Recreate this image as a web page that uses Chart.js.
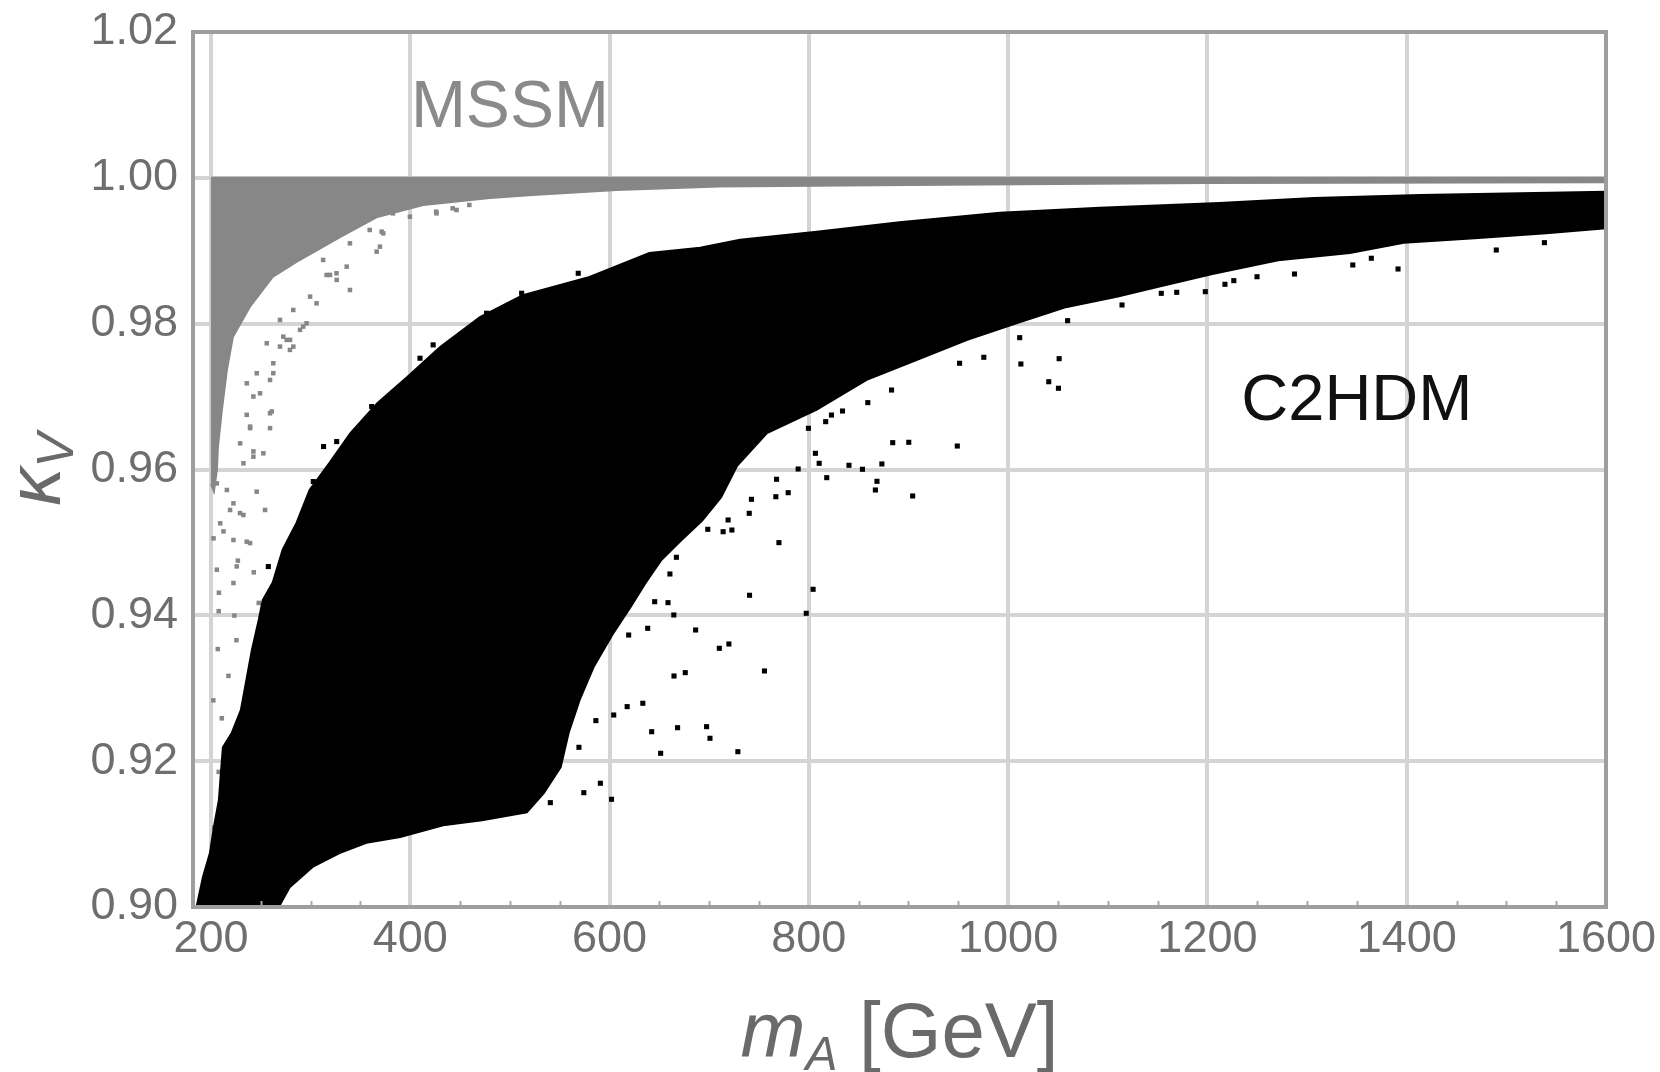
<!DOCTYPE html>
<html><head><meta charset="utf-8">
<script src="https://cdn.jsdelivr.net/npm/chart.js@4.4.1/dist/chart.umd.min.js"></script>
<style>html,body{margin:0;padding:0;background:#fff;}canvas{display:block;}</style>
</head><body>
<canvas id="c" width="1660" height="1072"></canvas>
<script>
// ---- data ----
const xTickValues = [200, 400, 600, 800, 1000, 1200, 1400, 1600];
const yTickValues = [0.90, 0.92, 0.94, 0.96, 0.98, 1.00, 1.02];

// dense MSSM scan region (outline: mA, kappa_V)
const mssmRegion = [
  [200,1.0000],[1600,1.0000],[1600,0.9994],[1200,0.9993],[900,0.9990],[710,0.9988],
  [607,0.99833],[523,0.99765],[480,0.99724],[413,0.99628],[367,0.99463],[330,0.99189],
  [289,0.98873],[262,0.9864],[239,0.98229],[222,0.97817],[216,0.97365],[211,0.96816],
  [207,0.96309],[206,0.95993],[203,0.9570],[200,0.9580]
];
// isolated MSSM points
const mssmPoints = [
  [372.9,0.99239],[369.6,0.99056],[339.5,0.99102],[336.2,0.98782],[339.5,0.98462],[319.5,0.98668],
  [306,0.98279],[299.5,0.98371],[296,0.98005],[282.7,0.97685],[276,0.97777],[262.6,0.97457],
  [249.3,0.97045],[259.3,0.96771],[239.3,0.96588],[229.3,0.96359],[252.6,0.96222],[245.9,0.95696],
  [254.3,0.95445],[219.2,0.95445],[232.6,0.95376],[235.9,0.95010],[222.6,0.95033],[202.6,0.95056],
  [216,0.95719],[205.9,0.95810],[232.6,0.96085],[222.6,0.95536],[209.3,0.95262],[242.6,0.96176],
  [259.3,0.97228],[246,0.97320],[236,0.97182],[292.6,0.97960],[269.3,0.98051],[282.6,0.98188],
  [312.6,0.98874],[326,0.98691],[359.3,0.99285],[382.6,0.99513],[426,0.99536],[442.6,0.99582],
  [459.3,0.99628],[272.6,0.97822],[256,0.97731],[279.3,0.97640],
  [379.6,0.99628],[399.7,0.99467],[426.4,0.99513],[446.5,0.99559],[371.3,0.99262],[366.3,0.98988],
  [326.2,0.98600],[316.1,0.98668],[289.4,0.97915],[279.4,0.97778],[269.3,0.97686],[262.6,0.97321],
  [242.6,0.97001],[235.9,0.96750],[261,0.96796],[259.3,0.96567],[239.3,0.96567],[242.6,0.96248],
  [212.6,0.95151],[239.3,0.94991],[225.9,0.94671],[205.9,0.94626],[222.6,0.94443],[229.2,0.95402],
  [207.8,0.94057],[223.5,0.93997],[206.9,0.93537],[225.6,0.93659],[217.6,0.93170],[202.4,0.92834],
  [210.9,0.92588],[207.8,0.91853],[203.3,0.91088],[208,0.9431],[227,0.9475],[243,0.9459],[248,0.9417]
];
// dense C2HDM scan region (outline)
const c2hdmRegion = [
  [184,0.899],[192,0.9041],[199,0.9074],[203,0.9110],[208,0.9147],[210,0.9184],[212,0.9219],
  [221,0.9239],[230,0.9270],[235,0.9307],[241,0.9352],[248,0.9394],[252,0.9421],[262,0.9445],
  [272,0.9490],[286,0.9527],[299,0.9572],[319,0.9609],[340,0.9650],[367,0.9691],[397,0.9727],
  [430,0.9768],[470,0.9809],[513,0.9839],[580,0.9864],[640,0.9897],[691,0.9904],[731,0.9915],
  [808,0.9926],[891,0.9939],[992,0.9952],[1092,0.9959],[1212,0.99655],[1307,0.99723],
  [1414,0.99765],[1600,0.9981],
  [1600,0.9931],[1540,0.9924],[1468,0.9917],[1397,0.9911],[1343,0.9897],[1271,0.9887],
  [1205,0.9868],[1155,0.9852],[1109,0.9837],[1059,0.9823],[1009,0.9801],[959,0.9778],
  [908,0.9750],[858,0.9723],[808,0.9682],[758,0.9650],[728,0.9605],[712,0.9562],[693,0.9530],
  [672,0.9503],[652,0.9476],[636,0.9444],[621,0.9411],[604,0.9376],[584,0.9329],[570,0.9284],
  [559,0.9239],[551,0.9192],[534,0.9156],[517,0.9130],[472,0.9119],[433,0.9112],[390,0.9096],
  [356,0.9088],[329,0.9074],[302,0.9055],[279,0.9027],[264,0.899]
];
// isolated C2HDM points
const c2hdmPoints = [
  [1059.7,0.98041],[1011.6,0.97808],[1012.8,0.97447],[1051.2,0.97520],[1040.8,0.97204],[1050.5,0.97114],
  [975.6,0.97539],[951.3,0.97457],[883,0.97090],[859.2,0.96917],[833.8,0.96802],[822.7,0.96747],
  [816.9,0.96656],[799.6,0.96565],[884.2,0.96368],[900.3,0.96373],[949,0.96322],[806.6,0.96222],
  [810.4,0.96085],[789.3,0.96007],[840.3,0.96058],[853.8,0.96003],[873.3,0.96076],[818,0.95888],
  [868.4,0.95838],[866.8,0.95719],[904.2,0.95637],[767.6,0.95866],[766.9,0.95627],[779.3,0.95682],
  [742.4,0.95591],[740.2,0.95399],[719,0.95308],[722.8,0.95170],[714,0.95147],[698.6,0.95180],
  [770,0.94997],[660.6,0.94567],[667.1,0.94796],[645.3,0.94187],[658.7,0.94174],[664.5,0.94005],
  [740.5,0.94275],[804.3,0.94357],[797.4,0.94028],[638.3,0.93822],[619.2,0.93730],[686.4,0.93799],
  [719.8,0.93607],[710.2,0.93548],[664.7,0.93168],[676,0.93214],[633.4,0.92794],[617.7,0.92748],
  [604.2,0.92633],[586.3,0.92556],[642.3,0.92404],[668.3,0.92459],[651.3,0.92108],[574.2,0.91568],
  [590.8,0.91697],[602,0.91477],[569.3,0.92190],[540.6,0.91431],[728.8,0.92130],[697.4,0.92473],
  [700.8,0.92314],[755.5,0.93237],
  [1391.3,0.98750],[1489.9,0.99010],[1538.2,0.99111],[1287.4,0.98681],[1249.8,0.98644],
  [1226.5,0.98590],[1217.6,0.98540],[1197.9,0.98439],[1169.2,0.98430],[1153.7,0.98416],[1114.3,0.98256],
  [1345.9,0.98805],[1364.5,0.98897],
  [568.6,0.98691],[511.8,0.98417],[476.6,0.98143],[423,0.97709],[409.8,0.97526],[361.3,0.96863],
  [313,0.96315],[302.7,0.95835],[257.6,0.94669],[326.2,0.96383]
];
const regionNames = ['MSSM', 'C2HDM'];

// ---- presentation settings (not data) ----
const FONT = '"Liberation Sans", Arial, sans-serif';
const GRAY_PTS = '#878787';
const labelAnchors = { MSSM: [500, 1.00697], C2HDM: [1350, 0.96679] };
const labelStyles = { MSSM: { color: '#8a8a8a', size: 66 }, C2HDM: { color: '#111111', size: 65 } };

const toXY = arr => arr.map(([x, y]) => ({ x, y }));

const decor = {
  id: 'decor',
  afterDatasetsDraw(chart) {
    const { ctx, chartArea: ca, scales: { x, y } } = chart;
    ctx.save();
    ctx.strokeStyle = '#a8a8a8'; ctx.lineWidth = 2;
    for (let v = 250; v < 1600; v += 50) {
      if (v % 200 === 0) continue;
      const px = Math.round(x.getPixelForValue(v)) + 0.5;
      ctx.beginPath(); ctx.moveTo(px, ca.bottom); ctx.lineTo(px, ca.bottom - 6); ctx.stroke();
    }
    ctx.strokeStyle = '#9e9e9e'; ctx.lineWidth = 4;
    ctx.strokeRect(ca.left, ca.top, ca.right - ca.left, ca.bottom - ca.top);
    ctx.textAlign = 'center'; ctx.textBaseline = 'alphabetic';
    regionNames.forEach(n => {
      const [lx, ly] = labelAnchors[n];
      ctx.fillStyle = labelStyles[n].color;
      ctx.font = labelStyles[n].size + 'px ' + FONT;
      ctx.fillText(n, x.getPixelForValue(lx), y.getPixelForValue(ly));
    });
    ctx.restore();
  },
  afterDraw(chart) {
    const { ctx, chartArea: ca } = chart;
    ctx.save();
    ctx.fillStyle = '#6a6a6a';
    ctx.textAlign = 'left'; ctx.textBaseline = 'alphabetic';
    const fMain = 'italic 78px ' + FONT, fSub = 'italic 48px ' + FONT, fReg = '78px ' + FONT;
    ctx.font = fMain; const w1 = ctx.measureText('m').width;
    ctx.font = fSub; const w2 = ctx.measureText('A').width;
    ctx.font = fReg; const w3 = ctx.measureText(' [GeV]').width;
    const cx = (ca.left + ca.right) / 2, by = ca.bottom + 150;
    const x0 = cx - (w1 + w2 + w3) / 2;
    ctx.font = fMain; ctx.fillText('m', x0, by);
    ctx.font = fSub; ctx.fillText('A', x0 + w1, by + 13);
    ctx.font = fReg; ctx.fillText(' [GeV]', x0 + w1 + w2, by);
    ctx.translate(60, (ca.top + ca.bottom) / 2);
    ctx.rotate(-Math.PI / 2);
    const fk = 'italic 76px ' + FONT, fv = 'italic 52px ' + FONT;
    ctx.font = fk; const wk = ctx.measureText('\u03BA').width;
    ctx.font = fv; const wv = ctx.measureText('V').width;
    const k0 = -(wk + wv) / 2;
    ctx.font = fk; ctx.fillText('\u03BA', k0, 0);
    ctx.font = fv; ctx.fillText('V', k0 + wk, 13);
    ctx.restore();
  }
};

new Chart(document.getElementById('c'), {
  type: 'scatter',
  data: {
    datasets: [
      { label: 'C2HDM points', data: toXY(c2hdmPoints), pointStyle: 'rect', pointRadius: 3.6,
        backgroundColor: '#000', borderWidth: 0, clip: 0 },
      { label: 'C2HDM', data: toXY(c2hdmRegion), showLine: true, fill: 'shape', tension: 0,
        pointRadius: 0, borderColor: '#000', backgroundColor: '#000', borderWidth: 2, clip: 0 },
      { label: 'MSSM points', data: toXY(mssmPoints), pointStyle: 'rect', pointRadius: 3.2,
        backgroundColor: GRAY_PTS, borderWidth: 0, clip: 0 },
      { label: 'MSSM', data: toXY(mssmRegion), showLine: true, fill: 'shape', tension: 0,
        pointRadius: 0, borderColor: GRAY_PTS, backgroundColor: GRAY_PTS, borderWidth: 2, clip: 0 }
    ]
  },
  options: {
    responsive: false, animation: false, devicePixelRatio: 1,
    layout: { padding: { top: 32, right: 54, left: 0, bottom: 0 } },
    plugins: { legend: { display: false }, tooltip: { enabled: false } },
    scales: {
      x: {
        type: 'linear', min: 182, max: 1600,
        afterBuildTicks: s => { s.ticks = xTickValues.map(v => ({ value: v })); },
        afterFit: s => { s.height = 165; s.paddingLeft = 0; s.paddingRight = 0; },
        ticks: { autoSkip: false, maxRotation: 0, color: '#6e6e6e', padding: 6,
                 font: { family: FONT, size: 45 }, callback: v => String(v) },
        grid: { color: '#d4d4d4', lineWidth: 4, drawTicks: false },
        border: { display: false }
      },
      y: {
        type: 'linear', min: 0.90, max: 1.02,
        afterBuildTicks: s => { s.ticks = yTickValues.map(v => ({ value: v })); },
        afterFit: s => { s.width = 193; s.paddingTop = 0; s.paddingBottom = 0; },
        ticks: { autoSkip: false, color: '#6e6e6e', padding: 15,
                 font: { family: FONT, size: 45 }, callback: v => Number(v).toFixed(2) },
        grid: { color: '#d4d4d4', lineWidth: 4, drawTicks: false },
        border: { display: false }
      }
    }
  },
  plugins: [decor]
});
</script>
</body></html>
